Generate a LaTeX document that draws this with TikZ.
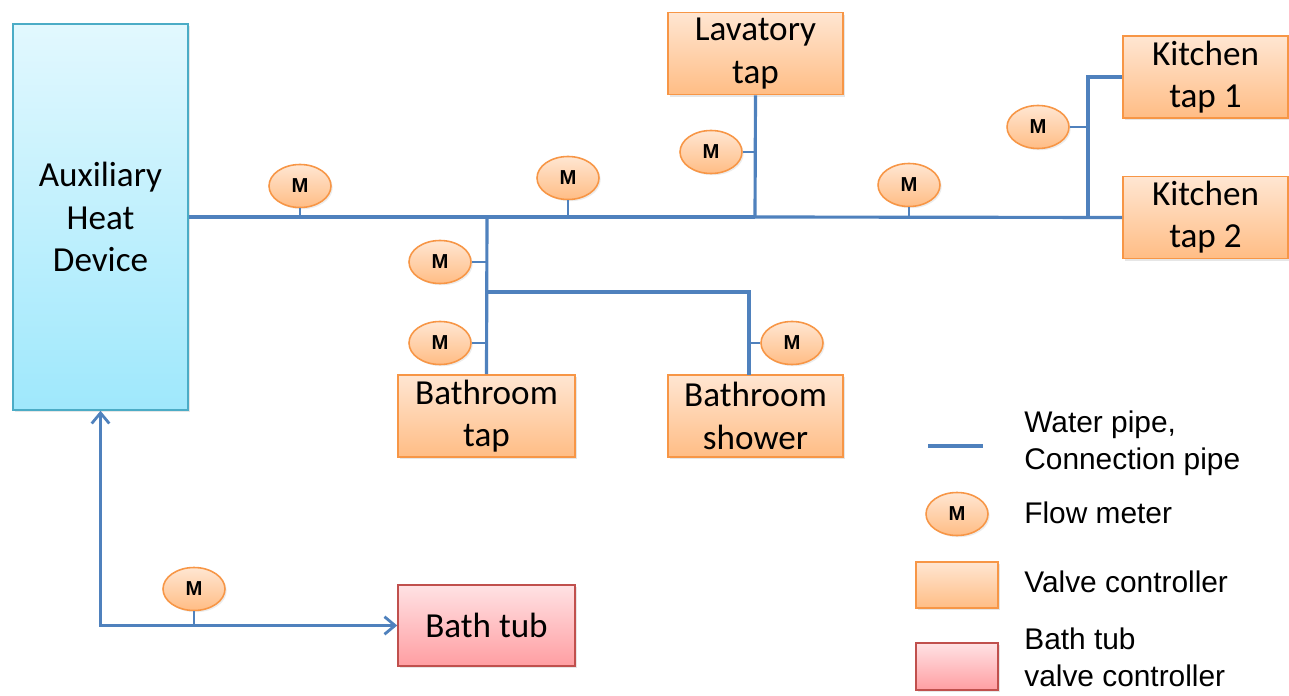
\documentclass[tikz,border=0pt]{standalone}
\usepackage{fontspec}
\setmainfont{Carlito}
\newfontfamily\legendfont{Liberation Sans}
\usetikzlibrary{shapes.geometric,arrows.meta,shadows}
\definecolor{pipeblue}{HTML}{4F81BD}
\definecolor{valveedge}{HTML}{F79646}
\definecolor{valvetop}{HTML}{FFE6D2}
\definecolor{valvebot}{HTML}{FFBD85}
\definecolor{heatedge}{HTML}{4BACC6}
\definecolor{heattop}{HTML}{E2F8FE}
\definecolor{heatbot}{HTML}{9FE8FC}
\definecolor{tubedge}{HTML}{C0504D}
\definecolor{tubtop}{HTML}{FFE2E4}
\definecolor{tubbot}{HTML}{FF9EA2}
\tikzset{
	box/.style={draw, line width=0.9pt, inner sep=0pt, align=center,
		font=\fontsize{20}{24}\selectfont,
		drop shadow={opacity=0.2, shadow xshift=1.2pt, shadow yshift=-1.2pt}},
	valve/.style={box, draw=valveedge, top color=valvetop, bottom color=valvebot,
		minimum width=3.5cm, minimum height=1.64cm},
	heater/.style={box, draw=heatedge, top color=heattop, bottom color=heatbot},
	tubvalve/.style={box, draw=tubedge, top color=tubtop, bottom color=tubbot},
	meter/.style={ellipse, draw=valveedge, line width=0.9pt, inner sep=0pt,
		top color=valvetop, bottom color=valvebot,
		minimum width=1.24cm, minimum height=0.86cm,
		font=\legendfont\bfseries\fontsize{11.5}{11.5}\selectfont,
		drop shadow={opacity=0.15, shadow xshift=1pt, shadow yshift=-1pt}},
	pipe/.style={draw=pipeblue, line width=1.8pt},
	trunk/.style={draw=pipeblue, line width=2.6pt},
	stub/.style={draw=pipeblue, line width=0.7pt},
	legtext/.style={anchor=west, align=left, inner sep=0pt,
		font=\legendfont\fontsize{17}{21}\selectfont}
}
\begin{document}
\begin{tikzpicture}[x=0.02cm, y=-0.02cm]
	\useasboundingbox (0,0) rectangle (1289,696);
	\node[heater, minimum width=3.5cm, minimum height=7.72cm] (aux) at (100.5,217) {Auxiliary\\Heat\\Device};
	\node[valve] (lav) at (755.5,53.5) {Lavatory\\tap};
	\node[valve, minimum width=3.3cm] (kit1) at (1205.5,77) {Kitchen\\tap 1};
	\node[valve, minimum width=3.3cm] (kit2) at (1205.5,217.5) {Kitchen\\tap 2};
	\node[valve, minimum width=3.54cm] (btap) at (486.5,416) {Bathroom\\tap};
	\node[valve] (bshower) at (755.5,416) {Bathroom\\shower};
	\node[tubvalve, minimum width=3.54cm, minimum height=1.62cm] (tub) at (486.5,625.5) {Bath tub};

	\coordinate (jbath) at (487,217);
	\coordinate (jshower) at (487,292);
	\coordinate (jlav) at (755,217);
	\coordinate (jkit) at (1088,217);
	\coordinate (jshw) at (749,375);

	\draw[trunk] (aux.east) -- (jlav);
	\draw[pipe] (jlav) -- (kit2.west);
	\draw[pipe] (lav.south) -- (jlav);
	\draw[pipe] (kit1.west) -| (jkit);
	\draw[pipe] (btap.north) -- (jbath);
	\draw[pipe] (jshower) -| (jshw);
	\draw[pipe, {Straight Barb[length=6pt,width=10pt,line width=1.6pt]}-{Straight Barb[length=6pt,width=10pt,line width=1.6pt]}] (aux.south) |- (tub.west);

	\node[meter] (m1) at (300,186) {M};
	\node[meter] (m2) at (568,178) {M};
	\node[meter] (m3) at (909,185) {M};
	\node[meter] (m4) at (711,152) {M};
	\node[meter] (m5) at (1038,127) {M};
	\node[meter] (m6) at (440,262) {M};
	\node[meter] (m7) at (440,343) {M};
	\node[meter] (m8) at (792,343) {M};
	\node[meter] (m9) at (194,589) {M};

	\draw[stub] (m1.south) -- (m1.south |- aux.east);
	\draw[stub] (m2.south) -- (m2.south |- aux.east);
	\draw[stub] (m3.south) -- (m3.south |- aux.east);
	\draw[stub] (m4.east) -- (m4.east -| jlav);
	\draw[stub] (m5.east) -- (m5.east -| jkit);
	\draw[stub] (m6.east) -- (m6.east -| jbath);
	\draw[stub] (m7.east) -- (m7.east -| jbath);
	\draw[stub] (m8.west) -- (m8.west -| jshw);
	\draw[stub] (m9.south) -- (m9.south |- tub.west);

	\coordinate (legA) at (928,446);
	\coordinate (legB) at (983,446);
	\draw[pipe] (legA) -- (legB);
	\node[meter] (legmeter) at (957,514) {M};
	\node[valve, minimum width=1.64cm, minimum height=0.92cm] (legvalve) at (957,585) {};
	\node[tubvalve, minimum width=1.64cm, minimum height=0.94cm] (legtub) at (957,666.5) {};
	\node[legtext] (txtpipe) at (1024,443) {Water pipe,\\Connection pipe};
	\node[legtext] (txtmeter) at (1024,513) {Flow meter};
	\node[legtext] (txtvalve) at (1024,582) {Valve controller};
	\node[legtext] (txttub) at (1024,657) {Bath tub\\valve controller};
\end{tikzpicture}
\end{document}
